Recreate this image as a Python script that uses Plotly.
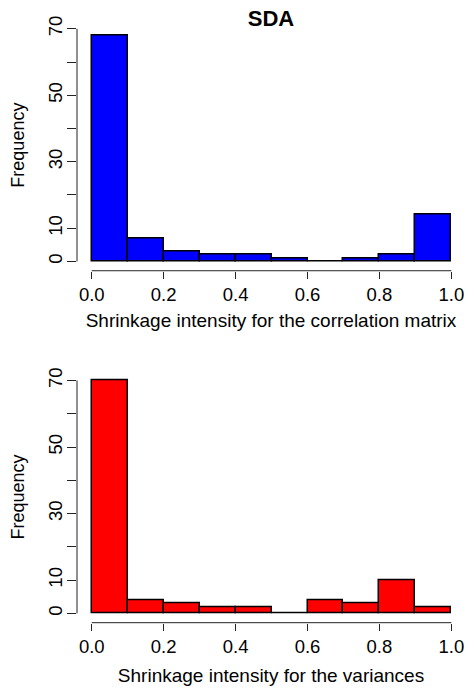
import plotly.graph_objects as go

bin_edges = [0.0, 0.1, 0.2, 0.3, 0.4, 0.5, 0.6, 0.7, 0.8, 0.9]
bin_width = 0.1
counts_corr = [68, 7, 3, 2, 2, 1, 0, 1, 2, 14]
counts_var = [70, 4, 3, 2, 2, 0, 4, 3, 10, 2]
x_ticks = [0.0, 0.2, 0.4, 0.6, 0.8, 1.0]
x_tick_labels = ["0.0", "0.2", "0.4", "0.6", "0.8", "1.0"]
y_ticks = [0, 10, 20, 30, 40, 50, 60, 70]
y_tick_labels = ["0", "10", "", "30", "", "50", "", "70"]
title = "SDA"
xlabel_top = "Shrinkage intensity for the correlation matrix"
xlabel_bottom = "Shrinkage intensity for the variances"
ylabel = "Frequency"

W, H = 465, 690
FONT = "Liberation Sans, Arial, sans-serif"

centers = [e + bin_width / 2 for e in bin_edges]

fig = go.Figure()
fig.add_trace(go.Bar(x=centers, y=counts_corr, width=bin_width,
                     marker=dict(color="#0000FF", line=dict(color="black", width=1.5)),
                     xaxis="x", yaxis="y", showlegend=False))
fig.add_trace(go.Bar(x=centers, y=counts_var, width=bin_width,
                     marker=dict(color="#FF0000", line=dict(color="black", width=1.5)),
                     xaxis="x2", yaxis="y2", showlegend=False))

def px2paper(p):
    return 1 - p / H

top_dom = [px2paper(268.3), px2paper(15.6)]
bot_dom = [px2paper(622.3), px2paper(369.3)]

xr = [-0.041, 1.038]
yr = [-2.8, 72.8]

xcommon = dict(range=xr, showgrid=False, zeroline=False, showline=False,
               ticks="outside", ticklen=7, tickwidth=1, tickcolor="#222",
               tickvals=x_ticks, ticktext=x_tick_labels,
               tickfont=dict(family=FONT, size=18.5, color="black"),
               ticklabelstandoff=0)
ycommon = dict(range=yr, showgrid=False, zeroline=False, showline=False,
               ticks="outside", ticklen=9, tickwidth=1, tickcolor="#222",
               tickvals=y_ticks, ticktext=y_tick_labels, tickangle=-90,
               tickfont=dict(family=FONT, size=18.5, color="black"),
               ticklabelstandoff=-2)

fig.update_layout(
    width=W, height=H,
    margin=dict(l=77, r=0, t=0, b=0),
    paper_bgcolor="white", plot_bgcolor="white",
    bargap=0,
    xaxis=dict(domain=[0, 1], anchor="y", **xcommon,
               title=dict(text=xlabel_top, font=dict(family=FONT, size=19, color="black"), standoff=9)),
    yaxis=dict(domain=top_dom, anchor="x", **ycommon,
               title=dict(text=ylabel, font=dict(family=FONT, size=18, color="black"), standoff=15)),
    xaxis2=dict(domain=[0, 1], anchor="y2", **xcommon,
                title=dict(text=xlabel_bottom, font=dict(family=FONT, size=19, color="black"), standoff=12)),
    yaxis2=dict(domain=bot_dom, anchor="x2", **ycommon,
                title=dict(text=ylabel, font=dict(family=FONT, size=18, color="black"), standoff=15)),
    title=dict(text="<b>" + title + "</b>", x=0.5, xref="paper", xanchor="center",
               y=1 - 18.3 / H, yref="container", yanchor="middle",
               font=dict(family=FONT, size=22, color="black")),
)

# R-style detached axis lines spanning only the tick range
for xa, ya in [("x", "y"), ("x2", "y2")]:
    fig.add_shape(type="line", xref=xa, yref=ya + " domain",
                  x0=x_ticks[0], x1=x_ticks[-1], y0=0, y1=0,
                  line=dict(color="#222", width=1))
    fig.add_shape(type="line", xref=xa + " domain", yref=ya,
                  x0=0, x1=0, y0=y_ticks[0], y1=y_ticks[-1],
                  line=dict(color="#222", width=1))

fig.write_html("out.html")
